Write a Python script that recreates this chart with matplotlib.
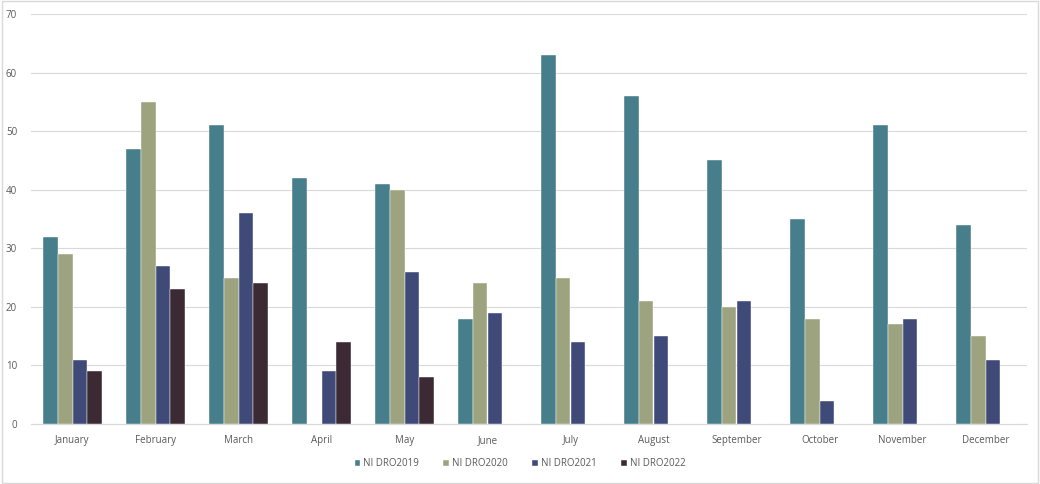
import matplotlib
matplotlib.use("Agg")
import matplotlib.pyplot as plt
import numpy as np
from matplotlib.patches import Rectangle

months = ["January", "February", "March", "April", "May", "June", "July",
          "August", "September", "October", "November", "December"]
series_names = ["NI DRO2019", "NI DRO2020", "NI DRO2021", "NI DRO2022"]
nidro2019 = [32, 47, 51, 42, 41, 18, 63, 56, 45, 35, 51, 34]
nidro2020 = [29, 55, 25, 0, 40, 24, 25, 21, 20, 18, 17, 15]
nidro2021 = [11, 27, 36, 9, 26, 19, 14, 15, 21, 4, 18, 11]
nidro2022 = [9, 23, 24, 14, 8, 0, 0, 0, 0, 0, 0, 0]
colors = ["#477E8B", "#9CA37E", "#3F4A79", "#3B2A33"]

plt.rcParams['font.family'] = ['Open Sans', 'DejaVu Sans']

fig = plt.figure(figsize=(10.4, 4.84), dpi=100)
ax = fig.add_axes([31/1040, 1-424/484, 996/1040, 410/484])

x = np.arange(len(months))
w = 0.175
data = [nidro2019, nidro2020, nidro2021, nidro2022]
for i, (vals, c, name) in enumerate(zip(data, colors, series_names)):
    ax.bar(x + (i - 1.5) * w, vals, width=w, color=c, label=name,
           edgecolor="white", linewidth=0.3, zorder=3)

ax.set_xlim(-0.5, 11.5)
ax.set_ylim(0, 70)
ax.set_yticks(range(0, 71, 10))
ax.set_xticks(x)
ax.set_xticklabels(months)
ax.grid(axis="y", color="#D9D9D9", linewidth=0.8, zorder=0)
for s in ["top", "right", "left"]:
    ax.spines[s].set_visible(False)
ax.spines["bottom"].set_color("#D9D9D9")
ax.tick_params(axis="both", length=0, labelsize=7, colors="#595959")
ax.tick_params(axis="x", pad=8)
ax.tick_params(axis="y", pad=10)

leg = fig.legend(loc="center", bbox_to_anchor=(520/1040, 1-464/484), ncol=4,
                 frameon=False, fontsize=7, handlelength=0.6, handleheight=0.6,
                 handletextpad=0.3, columnspacing=2.5, labelcolor="#595959")

fig.patches.append(Rectangle((0.0015, 0.002), 0.997, 0.996, transform=fig.transFigure,
                             fill=False, edgecolor="#D9D9D9", linewidth=1))

fig.savefig("out.png", dpi=100)
